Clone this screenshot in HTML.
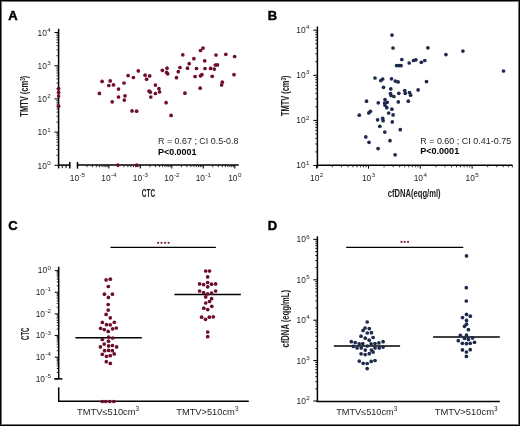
<!DOCTYPE html>
<html><head><meta charset="utf-8"><title>Figure</title>
<style>
html,body{margin:0;padding:0;background:#fff;}
body{width:520px;height:426px;overflow:hidden;position:relative;}
svg{position:absolute;left:0;top:0;display:block;will-change:transform;}
svg text{font-family:"Liberation Sans",sans-serif;}
</style></head>
<body>
<svg width="520" height="426" viewBox="0 0 520 426">
<rect x="0" y="0" width="520" height="426" fill="#fff"/>
<text x="8.30" y="20.00" font-size="13" font-weight="bold" text-anchor="start" fill="#000" stroke="#000" stroke-width="0.45">A</text>
<line x1="58.60" y1="28.80" x2="58.60" y2="165.70" stroke="#000" stroke-width="1.5"/>
<line x1="54.50" y1="165.30" x2="58.60" y2="165.30" stroke="#000" stroke-width="1.0"/>
<line x1="56.40" y1="155.31" x2="58.60" y2="155.31" stroke="#000" stroke-width="0.8"/>
<line x1="56.40" y1="149.46" x2="58.60" y2="149.46" stroke="#000" stroke-width="0.8"/>
<line x1="56.40" y1="145.31" x2="58.60" y2="145.31" stroke="#000" stroke-width="0.8"/>
<line x1="56.40" y1="142.09" x2="58.60" y2="142.09" stroke="#000" stroke-width="0.8"/>
<line x1="56.40" y1="139.47" x2="58.60" y2="139.47" stroke="#000" stroke-width="0.8"/>
<line x1="56.40" y1="137.24" x2="58.60" y2="137.24" stroke="#000" stroke-width="0.8"/>
<line x1="56.40" y1="135.32" x2="58.60" y2="135.32" stroke="#000" stroke-width="0.8"/>
<line x1="56.40" y1="133.62" x2="58.60" y2="133.62" stroke="#000" stroke-width="0.8"/>
<line x1="54.50" y1="132.10" x2="58.60" y2="132.10" stroke="#000" stroke-width="1.0"/>
<line x1="56.40" y1="122.11" x2="58.60" y2="122.11" stroke="#000" stroke-width="0.8"/>
<line x1="56.40" y1="116.26" x2="58.60" y2="116.26" stroke="#000" stroke-width="0.8"/>
<line x1="56.40" y1="112.11" x2="58.60" y2="112.11" stroke="#000" stroke-width="0.8"/>
<line x1="56.40" y1="108.89" x2="58.60" y2="108.89" stroke="#000" stroke-width="0.8"/>
<line x1="56.40" y1="106.27" x2="58.60" y2="106.27" stroke="#000" stroke-width="0.8"/>
<line x1="56.40" y1="104.04" x2="58.60" y2="104.04" stroke="#000" stroke-width="0.8"/>
<line x1="56.40" y1="102.12" x2="58.60" y2="102.12" stroke="#000" stroke-width="0.8"/>
<line x1="56.40" y1="100.42" x2="58.60" y2="100.42" stroke="#000" stroke-width="0.8"/>
<line x1="54.50" y1="98.90" x2="58.60" y2="98.90" stroke="#000" stroke-width="1.0"/>
<line x1="56.40" y1="88.91" x2="58.60" y2="88.91" stroke="#000" stroke-width="0.8"/>
<line x1="56.40" y1="83.06" x2="58.60" y2="83.06" stroke="#000" stroke-width="0.8"/>
<line x1="56.40" y1="78.91" x2="58.60" y2="78.91" stroke="#000" stroke-width="0.8"/>
<line x1="56.40" y1="75.69" x2="58.60" y2="75.69" stroke="#000" stroke-width="0.8"/>
<line x1="56.40" y1="73.07" x2="58.60" y2="73.07" stroke="#000" stroke-width="0.8"/>
<line x1="56.40" y1="70.84" x2="58.60" y2="70.84" stroke="#000" stroke-width="0.8"/>
<line x1="56.40" y1="68.92" x2="58.60" y2="68.92" stroke="#000" stroke-width="0.8"/>
<line x1="56.40" y1="67.22" x2="58.60" y2="67.22" stroke="#000" stroke-width="0.8"/>
<line x1="54.50" y1="65.70" x2="58.60" y2="65.70" stroke="#000" stroke-width="1.0"/>
<line x1="56.40" y1="55.71" x2="58.60" y2="55.71" stroke="#000" stroke-width="0.8"/>
<line x1="56.40" y1="49.86" x2="58.60" y2="49.86" stroke="#000" stroke-width="0.8"/>
<line x1="56.40" y1="45.71" x2="58.60" y2="45.71" stroke="#000" stroke-width="0.8"/>
<line x1="56.40" y1="42.49" x2="58.60" y2="42.49" stroke="#000" stroke-width="0.8"/>
<line x1="56.40" y1="39.87" x2="58.60" y2="39.87" stroke="#000" stroke-width="0.8"/>
<line x1="56.40" y1="37.64" x2="58.60" y2="37.64" stroke="#000" stroke-width="0.8"/>
<line x1="56.40" y1="35.72" x2="58.60" y2="35.72" stroke="#000" stroke-width="0.8"/>
<line x1="56.40" y1="34.02" x2="58.60" y2="34.02" stroke="#000" stroke-width="0.8"/>
<line x1="54.50" y1="32.50" x2="58.60" y2="32.50" stroke="#000" stroke-width="1.0"/>
<line x1="58.00" y1="165.10" x2="69.80" y2="165.10" stroke="#000" stroke-width="1.5"/>
<line x1="69.80" y1="162.00" x2="69.80" y2="168.40" stroke="#000" stroke-width="1.5"/>
<line x1="58.60" y1="165.10" x2="58.60" y2="168.40" stroke="#000" stroke-width="1.5"/>
<line x1="62.30" y1="165.10" x2="62.30" y2="168.10" stroke="#000" stroke-width="1.0"/>
<line x1="66.00" y1="165.10" x2="66.00" y2="168.10" stroke="#000" stroke-width="1.0"/>
<line x1="77.50" y1="165.10" x2="238.70" y2="165.10" stroke="#000" stroke-width="1.5"/>
<line x1="77.50" y1="162.00" x2="77.50" y2="168.40" stroke="#000" stroke-width="1.5"/>
<line x1="77.45" y1="165.10" x2="77.45" y2="168.50" stroke="#000" stroke-width="1.0"/>
<line x1="86.92" y1="165.10" x2="86.92" y2="167.20" stroke="#000" stroke-width="0.8"/>
<line x1="92.47" y1="165.10" x2="92.47" y2="167.20" stroke="#000" stroke-width="0.8"/>
<line x1="96.40" y1="165.10" x2="96.40" y2="167.20" stroke="#000" stroke-width="0.8"/>
<line x1="99.45" y1="165.10" x2="99.45" y2="167.20" stroke="#000" stroke-width="0.8"/>
<line x1="101.94" y1="165.10" x2="101.94" y2="167.20" stroke="#000" stroke-width="0.8"/>
<line x1="104.05" y1="165.10" x2="104.05" y2="167.20" stroke="#000" stroke-width="0.8"/>
<line x1="105.87" y1="165.10" x2="105.87" y2="167.20" stroke="#000" stroke-width="0.8"/>
<line x1="107.48" y1="165.10" x2="107.48" y2="167.20" stroke="#000" stroke-width="0.8"/>
<line x1="108.92" y1="165.10" x2="108.92" y2="168.50" stroke="#000" stroke-width="1.0"/>
<line x1="118.39" y1="165.10" x2="118.39" y2="167.20" stroke="#000" stroke-width="0.8"/>
<line x1="123.94" y1="165.10" x2="123.94" y2="167.20" stroke="#000" stroke-width="0.8"/>
<line x1="127.87" y1="165.10" x2="127.87" y2="167.20" stroke="#000" stroke-width="0.8"/>
<line x1="130.92" y1="165.10" x2="130.92" y2="167.20" stroke="#000" stroke-width="0.8"/>
<line x1="133.41" y1="165.10" x2="133.41" y2="167.20" stroke="#000" stroke-width="0.8"/>
<line x1="135.52" y1="165.10" x2="135.52" y2="167.20" stroke="#000" stroke-width="0.8"/>
<line x1="137.34" y1="165.10" x2="137.34" y2="167.20" stroke="#000" stroke-width="0.8"/>
<line x1="138.95" y1="165.10" x2="138.95" y2="167.20" stroke="#000" stroke-width="0.8"/>
<line x1="140.39" y1="165.10" x2="140.39" y2="168.50" stroke="#000" stroke-width="1.0"/>
<line x1="149.86" y1="165.10" x2="149.86" y2="167.20" stroke="#000" stroke-width="0.8"/>
<line x1="155.41" y1="165.10" x2="155.41" y2="167.20" stroke="#000" stroke-width="0.8"/>
<line x1="159.34" y1="165.10" x2="159.34" y2="167.20" stroke="#000" stroke-width="0.8"/>
<line x1="162.39" y1="165.10" x2="162.39" y2="167.20" stroke="#000" stroke-width="0.8"/>
<line x1="164.88" y1="165.10" x2="164.88" y2="167.20" stroke="#000" stroke-width="0.8"/>
<line x1="166.99" y1="165.10" x2="166.99" y2="167.20" stroke="#000" stroke-width="0.8"/>
<line x1="168.81" y1="165.10" x2="168.81" y2="167.20" stroke="#000" stroke-width="0.8"/>
<line x1="170.42" y1="165.10" x2="170.42" y2="167.20" stroke="#000" stroke-width="0.8"/>
<line x1="171.86" y1="165.10" x2="171.86" y2="168.50" stroke="#000" stroke-width="1.0"/>
<line x1="181.33" y1="165.10" x2="181.33" y2="167.20" stroke="#000" stroke-width="0.8"/>
<line x1="186.88" y1="165.10" x2="186.88" y2="167.20" stroke="#000" stroke-width="0.8"/>
<line x1="190.81" y1="165.10" x2="190.81" y2="167.20" stroke="#000" stroke-width="0.8"/>
<line x1="193.86" y1="165.10" x2="193.86" y2="167.20" stroke="#000" stroke-width="0.8"/>
<line x1="196.35" y1="165.10" x2="196.35" y2="167.20" stroke="#000" stroke-width="0.8"/>
<line x1="198.46" y1="165.10" x2="198.46" y2="167.20" stroke="#000" stroke-width="0.8"/>
<line x1="200.28" y1="165.10" x2="200.28" y2="167.20" stroke="#000" stroke-width="0.8"/>
<line x1="201.89" y1="165.10" x2="201.89" y2="167.20" stroke="#000" stroke-width="0.8"/>
<line x1="203.33" y1="165.10" x2="203.33" y2="168.50" stroke="#000" stroke-width="1.0"/>
<line x1="212.80" y1="165.10" x2="212.80" y2="167.20" stroke="#000" stroke-width="0.8"/>
<line x1="218.35" y1="165.10" x2="218.35" y2="167.20" stroke="#000" stroke-width="0.8"/>
<line x1="222.28" y1="165.10" x2="222.28" y2="167.20" stroke="#000" stroke-width="0.8"/>
<line x1="225.33" y1="165.10" x2="225.33" y2="167.20" stroke="#000" stroke-width="0.8"/>
<line x1="227.82" y1="165.10" x2="227.82" y2="167.20" stroke="#000" stroke-width="0.8"/>
<line x1="229.93" y1="165.10" x2="229.93" y2="167.20" stroke="#000" stroke-width="0.8"/>
<line x1="231.75" y1="165.10" x2="231.75" y2="167.20" stroke="#000" stroke-width="0.8"/>
<line x1="233.36" y1="165.10" x2="233.36" y2="167.20" stroke="#000" stroke-width="0.8"/>
<line x1="234.80" y1="165.10" x2="234.80" y2="168.50" stroke="#000" stroke-width="1.0"/>
<text x="50.80" y="35.70" font-size="8.4" text-anchor="end" fill="#1e1e1e">10<tspan font-size="6.2" dx="0.5" dy="-3.7">4</tspan></text>
<text x="50.80" y="68.90" font-size="8.4" text-anchor="end" fill="#1e1e1e">10<tspan font-size="6.2" dx="0.5" dy="-3.7">3</tspan></text>
<text x="50.80" y="102.10" font-size="8.4" text-anchor="end" fill="#1e1e1e">10<tspan font-size="6.2" dx="0.5" dy="-3.7">2</tspan></text>
<text x="50.80" y="135.30" font-size="8.4" text-anchor="end" fill="#1e1e1e">10<tspan font-size="6.2" dx="0.5" dy="-3.7">1</tspan></text>
<text x="50.80" y="168.50" font-size="8.4" text-anchor="end" fill="#1e1e1e">10<tspan font-size="6.2" dx="0.5" dy="-3.7">0</tspan></text>
<text x="77.45" y="180.6" font-size="8.4" text-anchor="middle" fill="#1e1e1e">10<tspan font-size="6.2" dx="0.4" dy="-3.7">-5</tspan></text>
<text x="108.92" y="180.6" font-size="8.4" text-anchor="middle" fill="#1e1e1e">10<tspan font-size="6.2" dx="0.4" dy="-3.7">-4</tspan></text>
<text x="140.39" y="180.6" font-size="8.4" text-anchor="middle" fill="#1e1e1e">10<tspan font-size="6.2" dx="0.4" dy="-3.7">-3</tspan></text>
<text x="171.86" y="180.6" font-size="8.4" text-anchor="middle" fill="#1e1e1e">10<tspan font-size="6.2" dx="0.4" dy="-3.7">-2</tspan></text>
<text x="203.33" y="180.6" font-size="8.4" text-anchor="middle" fill="#1e1e1e">10<tspan font-size="6.2" dx="0.4" dy="-3.7">-1</tspan></text>
<text x="234.80" y="180.6" font-size="8.4" text-anchor="middle" fill="#1e1e1e">10<tspan font-size="6.2" dx="0.4" dy="-3.7">0</tspan></text>
<text transform="translate(28.0,96.2) rotate(-90)" font-size="10.4" text-anchor="middle" fill="#222" font-weight="bold" textLength="41" lengthAdjust="spacingAndGlyphs">TMTV (cm<tspan font-size="6.5" dy="-3">3</tspan><tspan dy="3">)</tspan></text>
<text x="148.50" y="196.70" font-size="11.4" font-weight="bold" text-anchor="middle" fill="#222" textLength="13.4" lengthAdjust="spacingAndGlyphs">CTC</text>
<text x="158.00" y="143.80" font-size="8.3" font-weight="normal" text-anchor="start" fill="#1e1e1e" textLength="80.5" lengthAdjust="spacingAndGlyphs">R = 0.67 ; CI 0.5-0.8</text>
<text x="158.00" y="154.60" font-size="8.3" font-weight="bold" text-anchor="start" fill="#000" textLength="38.5" lengthAdjust="spacingAndGlyphs">P&lt;0.0001</text>
<circle cx="102.10" cy="81.40" r="1.85" fill="#6e0e28"/>
<circle cx="110.20" cy="80.90" r="1.85" fill="#6e0e28"/>
<circle cx="108.80" cy="85.50" r="1.85" fill="#6e0e28"/>
<circle cx="113.50" cy="84.90" r="1.85" fill="#6e0e28"/>
<circle cx="99.40" cy="93.40" r="1.85" fill="#6e0e28"/>
<circle cx="118.50" cy="89.10" r="1.85" fill="#6e0e28"/>
<circle cx="124.00" cy="83.00" r="1.85" fill="#6e0e28"/>
<circle cx="128.10" cy="75.60" r="1.85" fill="#6e0e28"/>
<circle cx="133.40" cy="77.50" r="1.85" fill="#6e0e28"/>
<circle cx="138.30" cy="70.90" r="1.85" fill="#6e0e28"/>
<circle cx="118.50" cy="97.00" r="1.85" fill="#6e0e28"/>
<circle cx="125.00" cy="95.80" r="1.85" fill="#6e0e28"/>
<circle cx="124.30" cy="100.10" r="1.85" fill="#6e0e28"/>
<circle cx="112.20" cy="101.80" r="1.85" fill="#6e0e28"/>
<circle cx="132.00" cy="110.90" r="1.85" fill="#6e0e28"/>
<circle cx="136.60" cy="111.20" r="1.85" fill="#6e0e28"/>
<circle cx="145.10" cy="75.20" r="1.85" fill="#6e0e28"/>
<circle cx="149.70" cy="75.90" r="1.85" fill="#6e0e28"/>
<circle cx="146.60" cy="79.20" r="1.85" fill="#6e0e28"/>
<circle cx="162.40" cy="70.30" r="1.85" fill="#6e0e28"/>
<circle cx="167.00" cy="68.20" r="1.85" fill="#6e0e28"/>
<circle cx="166.60" cy="72.40" r="1.85" fill="#6e0e28"/>
<circle cx="167.70" cy="73.80" r="1.85" fill="#6e0e28"/>
<circle cx="155.40" cy="85.10" r="1.85" fill="#6e0e28"/>
<circle cx="158.90" cy="88.60" r="1.85" fill="#6e0e28"/>
<circle cx="159.60" cy="91.80" r="1.85" fill="#6e0e28"/>
<circle cx="149.00" cy="91.00" r="1.85" fill="#6e0e28"/>
<circle cx="150.30" cy="92.20" r="1.85" fill="#6e0e28"/>
<circle cx="155.40" cy="93.50" r="1.85" fill="#6e0e28"/>
<circle cx="150.80" cy="97.00" r="1.85" fill="#6e0e28"/>
<circle cx="182.80" cy="54.80" r="1.85" fill="#6e0e28"/>
<circle cx="189.20" cy="63.70" r="1.85" fill="#6e0e28"/>
<circle cx="180.00" cy="67.50" r="1.85" fill="#6e0e28"/>
<circle cx="187.50" cy="68.20" r="1.85" fill="#6e0e28"/>
<circle cx="178.30" cy="71.70" r="1.85" fill="#6e0e28"/>
<circle cx="176.50" cy="77.70" r="1.85" fill="#6e0e28"/>
<circle cx="184.90" cy="93.20" r="1.85" fill="#6e0e28"/>
<circle cx="166.10" cy="102.70" r="1.85" fill="#6e0e28"/>
<circle cx="171.10" cy="115.40" r="1.85" fill="#6e0e28"/>
<circle cx="203.00" cy="48.10" r="1.85" fill="#6e0e28"/>
<circle cx="200.50" cy="50.50" r="1.85" fill="#6e0e28"/>
<circle cx="216.00" cy="55.00" r="1.85" fill="#6e0e28"/>
<circle cx="225.80" cy="54.30" r="1.85" fill="#6e0e28"/>
<circle cx="234.60" cy="56.50" r="1.85" fill="#6e0e28"/>
<circle cx="193.90" cy="58.70" r="1.85" fill="#6e0e28"/>
<circle cx="204.70" cy="60.80" r="1.85" fill="#6e0e28"/>
<circle cx="196.50" cy="68.50" r="1.85" fill="#6e0e28"/>
<circle cx="205.00" cy="68.50" r="1.85" fill="#6e0e28"/>
<circle cx="210.60" cy="68.40" r="1.85" fill="#6e0e28"/>
<circle cx="214.30" cy="69.10" r="1.85" fill="#6e0e28"/>
<circle cx="215.30" cy="65.00" r="1.85" fill="#6e0e28"/>
<circle cx="217.40" cy="64.90" r="1.85" fill="#6e0e28"/>
<circle cx="195.10" cy="76.50" r="1.85" fill="#6e0e28"/>
<circle cx="200.50" cy="75.80" r="1.85" fill="#6e0e28"/>
<circle cx="201.90" cy="74.70" r="1.85" fill="#6e0e28"/>
<circle cx="212.20" cy="76.30" r="1.85" fill="#6e0e28"/>
<circle cx="234.00" cy="74.70" r="1.85" fill="#6e0e28"/>
<circle cx="222.30" cy="82.20" r="1.85" fill="#6e0e28"/>
<circle cx="221.60" cy="85.00" r="1.85" fill="#6e0e28"/>
<circle cx="200.20" cy="88.20" r="1.85" fill="#6e0e28"/>
<circle cx="58.60" cy="88.60" r="1.85" fill="#6e0e28"/>
<circle cx="58.60" cy="92.40" r="1.85" fill="#6e0e28"/>
<circle cx="58.60" cy="96.10" r="1.85" fill="#6e0e28"/>
<circle cx="58.60" cy="106.20" r="1.85" fill="#6e0e28"/>
<circle cx="117.90" cy="165.10" r="1.85" fill="#6e0e28"/>
<circle cx="136.70" cy="165.10" r="1.85" fill="#6e0e28"/>
<text x="267.80" y="20.00" font-size="13" font-weight="bold" text-anchor="start" fill="#000" stroke="#000" stroke-width="0.45">B</text>
<line x1="317.40" y1="26.50" x2="317.40" y2="167.75" stroke="#000" stroke-width="1.5"/>
<line x1="313.30" y1="165.50" x2="317.40" y2="165.50" stroke="#000" stroke-width="1.0"/>
<line x1="315.20" y1="151.92" x2="317.40" y2="151.92" stroke="#000" stroke-width="0.8"/>
<line x1="315.20" y1="143.98" x2="317.40" y2="143.98" stroke="#000" stroke-width="0.8"/>
<line x1="315.20" y1="138.35" x2="317.40" y2="138.35" stroke="#000" stroke-width="0.8"/>
<line x1="315.20" y1="133.98" x2="317.40" y2="133.98" stroke="#000" stroke-width="0.8"/>
<line x1="315.20" y1="130.41" x2="317.40" y2="130.41" stroke="#000" stroke-width="0.8"/>
<line x1="315.20" y1="127.39" x2="317.40" y2="127.39" stroke="#000" stroke-width="0.8"/>
<line x1="315.20" y1="124.77" x2="317.40" y2="124.77" stroke="#000" stroke-width="0.8"/>
<line x1="315.20" y1="122.46" x2="317.40" y2="122.46" stroke="#000" stroke-width="0.8"/>
<line x1="313.30" y1="120.40" x2="317.40" y2="120.40" stroke="#000" stroke-width="1.0"/>
<line x1="315.20" y1="106.82" x2="317.40" y2="106.82" stroke="#000" stroke-width="0.8"/>
<line x1="315.20" y1="98.88" x2="317.40" y2="98.88" stroke="#000" stroke-width="0.8"/>
<line x1="315.20" y1="93.25" x2="317.40" y2="93.25" stroke="#000" stroke-width="0.8"/>
<line x1="315.20" y1="88.88" x2="317.40" y2="88.88" stroke="#000" stroke-width="0.8"/>
<line x1="315.20" y1="85.31" x2="317.40" y2="85.31" stroke="#000" stroke-width="0.8"/>
<line x1="315.20" y1="82.29" x2="317.40" y2="82.29" stroke="#000" stroke-width="0.8"/>
<line x1="315.20" y1="79.67" x2="317.40" y2="79.67" stroke="#000" stroke-width="0.8"/>
<line x1="315.20" y1="77.36" x2="317.40" y2="77.36" stroke="#000" stroke-width="0.8"/>
<line x1="313.30" y1="75.30" x2="317.40" y2="75.30" stroke="#000" stroke-width="1.0"/>
<line x1="315.20" y1="61.72" x2="317.40" y2="61.72" stroke="#000" stroke-width="0.8"/>
<line x1="315.20" y1="53.78" x2="317.40" y2="53.78" stroke="#000" stroke-width="0.8"/>
<line x1="315.20" y1="48.15" x2="317.40" y2="48.15" stroke="#000" stroke-width="0.8"/>
<line x1="315.20" y1="43.78" x2="317.40" y2="43.78" stroke="#000" stroke-width="0.8"/>
<line x1="315.20" y1="40.21" x2="317.40" y2="40.21" stroke="#000" stroke-width="0.8"/>
<line x1="315.20" y1="37.19" x2="317.40" y2="37.19" stroke="#000" stroke-width="0.8"/>
<line x1="315.20" y1="34.57" x2="317.40" y2="34.57" stroke="#000" stroke-width="0.8"/>
<line x1="315.20" y1="32.26" x2="317.40" y2="32.26" stroke="#000" stroke-width="0.8"/>
<line x1="313.30" y1="30.20" x2="317.40" y2="30.20" stroke="#000" stroke-width="1.0"/>
<line x1="316.80" y1="165.25" x2="512.50" y2="165.25" stroke="#000" stroke-width="1.5"/>
<line x1="316.70" y1="165.25" x2="316.70" y2="168.65" stroke="#000" stroke-width="1.0"/>
<line x1="332.29" y1="165.25" x2="332.29" y2="167.35" stroke="#000" stroke-width="0.8"/>
<line x1="341.41" y1="165.25" x2="341.41" y2="167.35" stroke="#000" stroke-width="0.8"/>
<line x1="347.89" y1="165.25" x2="347.89" y2="167.35" stroke="#000" stroke-width="0.8"/>
<line x1="352.91" y1="165.25" x2="352.91" y2="167.35" stroke="#000" stroke-width="0.8"/>
<line x1="357.01" y1="165.25" x2="357.01" y2="167.35" stroke="#000" stroke-width="0.8"/>
<line x1="360.48" y1="165.25" x2="360.48" y2="167.35" stroke="#000" stroke-width="0.8"/>
<line x1="363.48" y1="165.25" x2="363.48" y2="167.35" stroke="#000" stroke-width="0.8"/>
<line x1="366.13" y1="165.25" x2="366.13" y2="167.35" stroke="#000" stroke-width="0.8"/>
<line x1="368.50" y1="165.25" x2="368.50" y2="168.65" stroke="#000" stroke-width="1.0"/>
<line x1="384.09" y1="165.25" x2="384.09" y2="167.35" stroke="#000" stroke-width="0.8"/>
<line x1="393.21" y1="165.25" x2="393.21" y2="167.35" stroke="#000" stroke-width="0.8"/>
<line x1="399.69" y1="165.25" x2="399.69" y2="167.35" stroke="#000" stroke-width="0.8"/>
<line x1="404.71" y1="165.25" x2="404.71" y2="167.35" stroke="#000" stroke-width="0.8"/>
<line x1="408.81" y1="165.25" x2="408.81" y2="167.35" stroke="#000" stroke-width="0.8"/>
<line x1="412.28" y1="165.25" x2="412.28" y2="167.35" stroke="#000" stroke-width="0.8"/>
<line x1="415.28" y1="165.25" x2="415.28" y2="167.35" stroke="#000" stroke-width="0.8"/>
<line x1="417.93" y1="165.25" x2="417.93" y2="167.35" stroke="#000" stroke-width="0.8"/>
<line x1="420.30" y1="165.25" x2="420.30" y2="168.65" stroke="#000" stroke-width="1.0"/>
<line x1="435.89" y1="165.25" x2="435.89" y2="167.35" stroke="#000" stroke-width="0.8"/>
<line x1="445.01" y1="165.25" x2="445.01" y2="167.35" stroke="#000" stroke-width="0.8"/>
<line x1="451.49" y1="165.25" x2="451.49" y2="167.35" stroke="#000" stroke-width="0.8"/>
<line x1="456.51" y1="165.25" x2="456.51" y2="167.35" stroke="#000" stroke-width="0.8"/>
<line x1="460.61" y1="165.25" x2="460.61" y2="167.35" stroke="#000" stroke-width="0.8"/>
<line x1="464.08" y1="165.25" x2="464.08" y2="167.35" stroke="#000" stroke-width="0.8"/>
<line x1="467.08" y1="165.25" x2="467.08" y2="167.35" stroke="#000" stroke-width="0.8"/>
<line x1="469.73" y1="165.25" x2="469.73" y2="167.35" stroke="#000" stroke-width="0.8"/>
<line x1="472.10" y1="165.25" x2="472.10" y2="168.65" stroke="#000" stroke-width="1.0"/>
<line x1="487.69" y1="165.25" x2="487.69" y2="167.25" stroke="#000" stroke-width="0.8"/>
<line x1="496.81" y1="165.25" x2="496.81" y2="167.25" stroke="#000" stroke-width="0.8"/>
<line x1="503.29" y1="165.25" x2="503.29" y2="167.25" stroke="#000" stroke-width="0.8"/>
<line x1="508.31" y1="165.25" x2="508.31" y2="167.25" stroke="#000" stroke-width="0.8"/>
<line x1="512.41" y1="165.25" x2="512.41" y2="167.25" stroke="#000" stroke-width="0.8"/>
<text x="309.50" y="33.00" font-size="8.4" text-anchor="end" fill="#1e1e1e">10<tspan font-size="6.2" dx="0.5" dy="-3.7">4</tspan></text>
<text x="309.50" y="78.10" font-size="8.4" text-anchor="end" fill="#1e1e1e">10<tspan font-size="6.2" dx="0.5" dy="-3.7">3</tspan></text>
<text x="309.50" y="123.20" font-size="8.4" text-anchor="end" fill="#1e1e1e">10<tspan font-size="6.2" dx="0.5" dy="-3.7">2</tspan></text>
<text x="309.50" y="168.30" font-size="8.4" text-anchor="end" fill="#1e1e1e">10<tspan font-size="6.2" dx="0.5" dy="-3.7">1</tspan></text>
<text x="316.70" y="180.8" font-size="8.4" text-anchor="middle" fill="#1e1e1e">10<tspan font-size="6.2" dx="0.4" dy="-3.7">2</tspan></text>
<text x="368.50" y="180.8" font-size="8.4" text-anchor="middle" fill="#1e1e1e">10<tspan font-size="6.2" dx="0.4" dy="-3.7">3</tspan></text>
<text x="420.30" y="180.8" font-size="8.4" text-anchor="middle" fill="#1e1e1e">10<tspan font-size="6.2" dx="0.4" dy="-3.7">4</tspan></text>
<text x="472.10" y="180.8" font-size="8.4" text-anchor="middle" fill="#1e1e1e">10<tspan font-size="6.2" dx="0.4" dy="-3.7">5</tspan></text>
<text transform="translate(288.6,95.8) rotate(-90)" font-size="10.4" text-anchor="middle" fill="#222" font-weight="bold" textLength="40.5" lengthAdjust="spacingAndGlyphs">TMTV (cm<tspan font-size="6.5" dy="-3">3</tspan><tspan dy="3">)</tspan></text>
<text x="387.80" y="196.80" font-size="10.2" font-weight="bold" text-anchor="start" fill="#222" textLength="52.8" lengthAdjust="spacingAndGlyphs">cfDNA(eqg/ml)</text>
<text x="420.20" y="144.40" font-size="8.3" font-weight="normal" text-anchor="start" fill="#1e1e1e" textLength="91" lengthAdjust="spacingAndGlyphs">R = 0.60 ; CI 0.41-0.75</text>
<text x="420.20" y="154.30" font-size="8.3" font-weight="bold" text-anchor="start" fill="#000" textLength="39" lengthAdjust="spacingAndGlyphs">P&lt;0.0001</text>
<circle cx="392.00" cy="35.10" r="1.85" fill="#1e2a4c"/>
<circle cx="393.00" cy="48.00" r="1.85" fill="#1e2a4c"/>
<circle cx="427.90" cy="47.80" r="1.85" fill="#1e2a4c"/>
<circle cx="401.80" cy="59.50" r="1.85" fill="#1e2a4c"/>
<circle cx="396.60" cy="65.60" r="1.85" fill="#1e2a4c"/>
<circle cx="399.00" cy="65.60" r="1.85" fill="#1e2a4c"/>
<circle cx="401.10" cy="65.60" r="1.85" fill="#1e2a4c"/>
<circle cx="409.20" cy="63.00" r="1.85" fill="#1e2a4c"/>
<circle cx="413.50" cy="60.50" r="1.85" fill="#1e2a4c"/>
<circle cx="415.90" cy="59.80" r="1.85" fill="#1e2a4c"/>
<circle cx="421.30" cy="62.30" r="1.85" fill="#1e2a4c"/>
<circle cx="424.80" cy="60.50" r="1.85" fill="#1e2a4c"/>
<circle cx="375.00" cy="78.00" r="1.85" fill="#1e2a4c"/>
<circle cx="380.80" cy="80.60" r="1.85" fill="#1e2a4c"/>
<circle cx="382.70" cy="79.00" r="1.85" fill="#1e2a4c"/>
<circle cx="391.50" cy="78.80" r="1.85" fill="#1e2a4c"/>
<circle cx="395.30" cy="81.10" r="1.85" fill="#1e2a4c"/>
<circle cx="398.10" cy="81.90" r="1.85" fill="#1e2a4c"/>
<circle cx="426.50" cy="81.60" r="1.85" fill="#1e2a4c"/>
<circle cx="383.50" cy="87.30" r="1.85" fill="#1e2a4c"/>
<circle cx="390.80" cy="88.90" r="1.85" fill="#1e2a4c"/>
<circle cx="390.50" cy="93.60" r="1.85" fill="#1e2a4c"/>
<circle cx="391.10" cy="95.50" r="1.85" fill="#1e2a4c"/>
<circle cx="393.90" cy="96.50" r="1.85" fill="#1e2a4c"/>
<circle cx="398.80" cy="93.30" r="1.85" fill="#1e2a4c"/>
<circle cx="404.80" cy="90.60" r="1.85" fill="#1e2a4c"/>
<circle cx="405.20" cy="93.30" r="1.85" fill="#1e2a4c"/>
<circle cx="409.50" cy="92.50" r="1.85" fill="#1e2a4c"/>
<circle cx="410.60" cy="95.20" r="1.85" fill="#1e2a4c"/>
<circle cx="418.10" cy="89.90" r="1.85" fill="#1e2a4c"/>
<circle cx="385.00" cy="99.60" r="1.85" fill="#1e2a4c"/>
<circle cx="378.30" cy="102.80" r="1.85" fill="#1e2a4c"/>
<circle cx="384.60" cy="103.00" r="1.85" fill="#1e2a4c"/>
<circle cx="387.20" cy="102.30" r="1.85" fill="#1e2a4c"/>
<circle cx="385.00" cy="105.20" r="1.85" fill="#1e2a4c"/>
<circle cx="386.80" cy="107.70" r="1.85" fill="#1e2a4c"/>
<circle cx="398.30" cy="101.90" r="1.85" fill="#1e2a4c"/>
<circle cx="408.30" cy="101.20" r="1.85" fill="#1e2a4c"/>
<circle cx="366.50" cy="101.20" r="1.85" fill="#1e2a4c"/>
<circle cx="391.90" cy="109.20" r="1.85" fill="#1e2a4c"/>
<circle cx="370.40" cy="111.30" r="1.85" fill="#1e2a4c"/>
<circle cx="368.80" cy="112.90" r="1.85" fill="#1e2a4c"/>
<circle cx="388.70" cy="113.00" r="1.85" fill="#1e2a4c"/>
<circle cx="393.10" cy="114.90" r="1.85" fill="#1e2a4c"/>
<circle cx="359.30" cy="115.20" r="1.85" fill="#1e2a4c"/>
<circle cx="377.60" cy="119.80" r="1.85" fill="#1e2a4c"/>
<circle cx="382.70" cy="118.30" r="1.85" fill="#1e2a4c"/>
<circle cx="383.10" cy="120.70" r="1.85" fill="#1e2a4c"/>
<circle cx="392.30" cy="121.90" r="1.85" fill="#1e2a4c"/>
<circle cx="379.80" cy="126.30" r="1.85" fill="#1e2a4c"/>
<circle cx="384.80" cy="132.10" r="1.85" fill="#1e2a4c"/>
<circle cx="400.30" cy="129.70" r="1.85" fill="#1e2a4c"/>
<circle cx="365.80" cy="136.90" r="1.85" fill="#1e2a4c"/>
<circle cx="369.00" cy="142.30" r="1.85" fill="#1e2a4c"/>
<circle cx="390.00" cy="140.70" r="1.85" fill="#1e2a4c"/>
<circle cx="378.10" cy="148.60" r="1.85" fill="#1e2a4c"/>
<circle cx="395.10" cy="154.80" r="1.85" fill="#1e2a4c"/>
<circle cx="445.90" cy="54.60" r="1.85" fill="#1e2a4c"/>
<circle cx="462.90" cy="51.10" r="1.85" fill="#1e2a4c"/>
<circle cx="503.50" cy="71.00" r="1.85" fill="#1e2a4c"/>
<text x="8.30" y="230.00" font-size="13" font-weight="bold" text-anchor="start" fill="#000" stroke="#000" stroke-width="0.45">C</text>
<line x1="58.70" y1="266.70" x2="58.70" y2="378.85" stroke="#000" stroke-width="1.5"/>
<line x1="54.70" y1="270.60" x2="58.70" y2="270.60" stroke="#000" stroke-width="1.0"/>
<line x1="56.70" y1="285.73" x2="58.70" y2="285.73" stroke="#000" stroke-width="0.8"/>
<line x1="56.70" y1="281.92" x2="58.70" y2="281.92" stroke="#000" stroke-width="0.8"/>
<line x1="56.70" y1="279.22" x2="58.70" y2="279.22" stroke="#000" stroke-width="0.8"/>
<line x1="56.70" y1="277.12" x2="58.70" y2="277.12" stroke="#000" stroke-width="0.8"/>
<line x1="56.70" y1="275.40" x2="58.70" y2="275.40" stroke="#000" stroke-width="0.8"/>
<line x1="56.70" y1="273.95" x2="58.70" y2="273.95" stroke="#000" stroke-width="0.8"/>
<line x1="56.70" y1="272.70" x2="58.70" y2="272.70" stroke="#000" stroke-width="0.8"/>
<line x1="56.70" y1="271.59" x2="58.70" y2="271.59" stroke="#000" stroke-width="0.8"/>
<line x1="54.70" y1="292.25" x2="58.70" y2="292.25" stroke="#000" stroke-width="1.0"/>
<line x1="56.70" y1="307.38" x2="58.70" y2="307.38" stroke="#000" stroke-width="0.8"/>
<line x1="56.70" y1="303.57" x2="58.70" y2="303.57" stroke="#000" stroke-width="0.8"/>
<line x1="56.70" y1="300.87" x2="58.70" y2="300.87" stroke="#000" stroke-width="0.8"/>
<line x1="56.70" y1="298.77" x2="58.70" y2="298.77" stroke="#000" stroke-width="0.8"/>
<line x1="56.70" y1="297.05" x2="58.70" y2="297.05" stroke="#000" stroke-width="0.8"/>
<line x1="56.70" y1="295.60" x2="58.70" y2="295.60" stroke="#000" stroke-width="0.8"/>
<line x1="56.70" y1="294.35" x2="58.70" y2="294.35" stroke="#000" stroke-width="0.8"/>
<line x1="56.70" y1="293.24" x2="58.70" y2="293.24" stroke="#000" stroke-width="0.8"/>
<line x1="54.70" y1="313.90" x2="58.70" y2="313.90" stroke="#000" stroke-width="1.0"/>
<line x1="56.70" y1="329.03" x2="58.70" y2="329.03" stroke="#000" stroke-width="0.8"/>
<line x1="56.70" y1="325.22" x2="58.70" y2="325.22" stroke="#000" stroke-width="0.8"/>
<line x1="56.70" y1="322.52" x2="58.70" y2="322.52" stroke="#000" stroke-width="0.8"/>
<line x1="56.70" y1="320.42" x2="58.70" y2="320.42" stroke="#000" stroke-width="0.8"/>
<line x1="56.70" y1="318.70" x2="58.70" y2="318.70" stroke="#000" stroke-width="0.8"/>
<line x1="56.70" y1="317.25" x2="58.70" y2="317.25" stroke="#000" stroke-width="0.8"/>
<line x1="56.70" y1="316.00" x2="58.70" y2="316.00" stroke="#000" stroke-width="0.8"/>
<line x1="56.70" y1="314.89" x2="58.70" y2="314.89" stroke="#000" stroke-width="0.8"/>
<line x1="54.70" y1="335.55" x2="58.70" y2="335.55" stroke="#000" stroke-width="1.0"/>
<line x1="56.70" y1="350.68" x2="58.70" y2="350.68" stroke="#000" stroke-width="0.8"/>
<line x1="56.70" y1="346.87" x2="58.70" y2="346.87" stroke="#000" stroke-width="0.8"/>
<line x1="56.70" y1="344.17" x2="58.70" y2="344.17" stroke="#000" stroke-width="0.8"/>
<line x1="56.70" y1="342.07" x2="58.70" y2="342.07" stroke="#000" stroke-width="0.8"/>
<line x1="56.70" y1="340.35" x2="58.70" y2="340.35" stroke="#000" stroke-width="0.8"/>
<line x1="56.70" y1="338.90" x2="58.70" y2="338.90" stroke="#000" stroke-width="0.8"/>
<line x1="56.70" y1="337.65" x2="58.70" y2="337.65" stroke="#000" stroke-width="0.8"/>
<line x1="56.70" y1="336.54" x2="58.70" y2="336.54" stroke="#000" stroke-width="0.8"/>
<line x1="54.70" y1="357.20" x2="58.70" y2="357.20" stroke="#000" stroke-width="1.0"/>
<line x1="56.70" y1="372.33" x2="58.70" y2="372.33" stroke="#000" stroke-width="0.8"/>
<line x1="56.70" y1="368.52" x2="58.70" y2="368.52" stroke="#000" stroke-width="0.8"/>
<line x1="56.70" y1="365.82" x2="58.70" y2="365.82" stroke="#000" stroke-width="0.8"/>
<line x1="56.70" y1="363.72" x2="58.70" y2="363.72" stroke="#000" stroke-width="0.8"/>
<line x1="56.70" y1="362.00" x2="58.70" y2="362.00" stroke="#000" stroke-width="0.8"/>
<line x1="56.70" y1="360.55" x2="58.70" y2="360.55" stroke="#000" stroke-width="0.8"/>
<line x1="56.70" y1="359.30" x2="58.70" y2="359.30" stroke="#000" stroke-width="0.8"/>
<line x1="56.70" y1="358.19" x2="58.70" y2="358.19" stroke="#000" stroke-width="0.8"/>
<line x1="54.70" y1="378.85" x2="58.70" y2="378.85" stroke="#000" stroke-width="1.0"/>
<line x1="54.40" y1="378.85" x2="62.40" y2="378.85" stroke="#000" stroke-width="1.5"/>
<line x1="58.70" y1="387.40" x2="58.70" y2="401.95" stroke="#000" stroke-width="1.5"/>
<line x1="58.10" y1="401.35" x2="248.80" y2="401.35" stroke="#000" stroke-width="1.5"/>
<text x="51.00" y="273.40" font-size="8.4" text-anchor="end" fill="#1e1e1e">10<tspan font-size="6.2" dx="0.5" dy="-3.7">0</tspan></text>
<text x="51.00" y="295.05" font-size="8.4" text-anchor="end" fill="#1e1e1e">10<tspan font-size="6.2" dx="0.5" dy="-3.7">-1</tspan></text>
<text x="51.00" y="316.70" font-size="8.4" text-anchor="end" fill="#1e1e1e">10<tspan font-size="6.2" dx="0.5" dy="-3.7">-2</tspan></text>
<text x="51.00" y="338.35" font-size="8.4" text-anchor="end" fill="#1e1e1e">10<tspan font-size="6.2" dx="0.5" dy="-3.7">-3</tspan></text>
<text x="51.00" y="360.00" font-size="8.4" text-anchor="end" fill="#1e1e1e">10<tspan font-size="6.2" dx="0.5" dy="-3.7">-4</tspan></text>
<text x="51.00" y="381.65" font-size="8.4" text-anchor="end" fill="#1e1e1e">10<tspan font-size="6.2" dx="0.5" dy="-3.7">-5</tspan></text>
<text transform="translate(29.3,333.8) rotate(-90)" font-size="11" text-anchor="middle" fill="#222" font-weight="bold" textLength="12.3" lengthAdjust="spacingAndGlyphs">CTC</text>
<line x1="110.50" y1="247.45" x2="215.90" y2="247.45" stroke="#000" stroke-width="1.3"/>
<circle cx="158.1" cy="242.8" r="1.1" fill="#7a2a44"/>
<circle cx="161.5" cy="242.8" r="1.1" fill="#7a2a44"/>
<circle cx="165.1" cy="242.8" r="1.1" fill="#7a2a44"/>
<circle cx="168.6" cy="242.8" r="1.1" fill="#7a2a44"/>
<line x1="75.40" y1="337.85" x2="141.80" y2="337.85" stroke="#000" stroke-width="1.5"/>
<line x1="174.40" y1="294.45" x2="240.80" y2="294.45" stroke="#000" stroke-width="1.4"/>
<text x="77.10" y="415.00" font-size="8.9" fill="#1e1e1e" textLength="58.40" lengthAdjust="spacingAndGlyphs">TMTV&#8804;510cm</text>
<text x="135.60" y="411.40" font-size="6.4" fill="#1e1e1e">3</text>
<text x="176.30" y="414.80" font-size="8.9" fill="#1e1e1e" textLength="58.50" lengthAdjust="spacingAndGlyphs">TMTV&gt;510cm</text>
<text x="234.90" y="411.20" font-size="6.4" fill="#1e1e1e">3</text>
<circle cx="106.10" cy="279.90" r="1.85" fill="#6e0e28"/>
<circle cx="110.30" cy="279.20" r="1.85" fill="#6e0e28"/>
<circle cx="108.30" cy="286.50" r="1.85" fill="#6e0e28"/>
<circle cx="104.40" cy="294.20" r="1.85" fill="#6e0e28"/>
<circle cx="112.40" cy="294.20" r="1.85" fill="#6e0e28"/>
<circle cx="108.40" cy="297.40" r="1.85" fill="#6e0e28"/>
<circle cx="108.20" cy="304.50" r="1.85" fill="#6e0e28"/>
<circle cx="108.20" cy="310.10" r="1.85" fill="#6e0e28"/>
<circle cx="106.10" cy="314.40" r="1.85" fill="#6e0e28"/>
<circle cx="110.30" cy="317.80" r="1.85" fill="#6e0e28"/>
<circle cx="102.30" cy="322.40" r="1.85" fill="#6e0e28"/>
<circle cx="106.50" cy="324.70" r="1.85" fill="#6e0e28"/>
<circle cx="110.20" cy="324.80" r="1.85" fill="#6e0e28"/>
<circle cx="114.30" cy="322.30" r="1.85" fill="#6e0e28"/>
<circle cx="100.60" cy="328.30" r="1.85" fill="#6e0e28"/>
<circle cx="104.30" cy="329.60" r="1.85" fill="#6e0e28"/>
<circle cx="108.20" cy="331.40" r="1.85" fill="#6e0e28"/>
<circle cx="112.60" cy="328.80" r="1.85" fill="#6e0e28"/>
<circle cx="116.30" cy="328.00" r="1.85" fill="#6e0e28"/>
<circle cx="108.60" cy="337.00" r="1.85" fill="#6e0e28"/>
<circle cx="112.70" cy="338.00" r="1.85" fill="#6e0e28"/>
<circle cx="102.30" cy="339.40" r="1.85" fill="#6e0e28"/>
<circle cx="108.50" cy="341.20" r="1.85" fill="#6e0e28"/>
<circle cx="104.20" cy="344.10" r="1.85" fill="#6e0e28"/>
<circle cx="100.40" cy="346.90" r="1.85" fill="#6e0e28"/>
<circle cx="108.60" cy="345.90" r="1.85" fill="#6e0e28"/>
<circle cx="112.40" cy="345.50" r="1.85" fill="#6e0e28"/>
<circle cx="116.60" cy="346.90" r="1.85" fill="#6e0e28"/>
<circle cx="104.60" cy="350.70" r="1.85" fill="#6e0e28"/>
<circle cx="108.60" cy="350.40" r="1.85" fill="#6e0e28"/>
<circle cx="112.40" cy="350.70" r="1.85" fill="#6e0e28"/>
<circle cx="102.30" cy="354.30" r="1.85" fill="#6e0e28"/>
<circle cx="114.20" cy="353.90" r="1.85" fill="#6e0e28"/>
<circle cx="106.50" cy="356.30" r="1.85" fill="#6e0e28"/>
<circle cx="110.30" cy="355.70" r="1.85" fill="#6e0e28"/>
<circle cx="106.30" cy="361.70" r="1.85" fill="#6e0e28"/>
<circle cx="110.30" cy="363.40" r="1.85" fill="#6e0e28"/>
<circle cx="102.30" cy="401.50" r="1.85" fill="#6e0e28"/>
<circle cx="105.70" cy="401.50" r="1.85" fill="#6e0e28"/>
<circle cx="109.70" cy="401.50" r="1.85" fill="#6e0e28"/>
<circle cx="113.80" cy="401.50" r="1.85" fill="#6e0e28"/>
<circle cx="205.70" cy="271.00" r="1.85" fill="#6e0e28"/>
<circle cx="209.50" cy="271.00" r="1.85" fill="#6e0e28"/>
<circle cx="207.70" cy="276.90" r="1.85" fill="#6e0e28"/>
<circle cx="199.60" cy="283.90" r="1.85" fill="#6e0e28"/>
<circle cx="203.60" cy="284.60" r="1.85" fill="#6e0e28"/>
<circle cx="207.70" cy="282.50" r="1.85" fill="#6e0e28"/>
<circle cx="211.60" cy="284.20" r="1.85" fill="#6e0e28"/>
<circle cx="215.60" cy="283.90" r="1.85" fill="#6e0e28"/>
<circle cx="207.70" cy="286.80" r="1.85" fill="#6e0e28"/>
<circle cx="199.60" cy="291.00" r="1.85" fill="#6e0e28"/>
<circle cx="203.60" cy="292.70" r="1.85" fill="#6e0e28"/>
<circle cx="207.70" cy="293.80" r="1.85" fill="#6e0e28"/>
<circle cx="211.60" cy="293.10" r="1.85" fill="#6e0e28"/>
<circle cx="215.60" cy="291.00" r="1.85" fill="#6e0e28"/>
<circle cx="205.70" cy="296.90" r="1.85" fill="#6e0e28"/>
<circle cx="211.60" cy="298.70" r="1.85" fill="#6e0e28"/>
<circle cx="209.50" cy="301.50" r="1.85" fill="#6e0e28"/>
<circle cx="205.70" cy="303.00" r="1.85" fill="#6e0e28"/>
<circle cx="211.80" cy="306.30" r="1.85" fill="#6e0e28"/>
<circle cx="203.80" cy="308.20" r="1.85" fill="#6e0e28"/>
<circle cx="207.70" cy="309.60" r="1.85" fill="#6e0e28"/>
<circle cx="201.60" cy="317.20" r="1.85" fill="#6e0e28"/>
<circle cx="205.50" cy="319.30" r="1.85" fill="#6e0e28"/>
<circle cx="209.30" cy="317.20" r="1.85" fill="#6e0e28"/>
<circle cx="213.30" cy="316.80" r="1.85" fill="#6e0e28"/>
<circle cx="207.70" cy="332.00" r="1.85" fill="#6e0e28"/>
<circle cx="207.70" cy="336.70" r="1.85" fill="#6e0e28"/>
<text x="267.80" y="230.00" font-size="13" font-weight="bold" text-anchor="start" fill="#000" stroke="#000" stroke-width="0.45">D</text>
<line x1="317.40" y1="236.30" x2="317.40" y2="402.05" stroke="#000" stroke-width="1.5"/>
<line x1="313.30" y1="401.00" x2="317.40" y2="401.00" stroke="#000" stroke-width="1.0"/>
<line x1="315.20" y1="388.84" x2="317.40" y2="388.84" stroke="#000" stroke-width="0.8"/>
<line x1="315.20" y1="381.72" x2="317.40" y2="381.72" stroke="#000" stroke-width="0.8"/>
<line x1="315.20" y1="376.68" x2="317.40" y2="376.68" stroke="#000" stroke-width="0.8"/>
<line x1="315.20" y1="372.76" x2="317.40" y2="372.76" stroke="#000" stroke-width="0.8"/>
<line x1="315.20" y1="369.56" x2="317.40" y2="369.56" stroke="#000" stroke-width="0.8"/>
<line x1="315.20" y1="366.86" x2="317.40" y2="366.86" stroke="#000" stroke-width="0.8"/>
<line x1="315.20" y1="364.52" x2="317.40" y2="364.52" stroke="#000" stroke-width="0.8"/>
<line x1="315.20" y1="362.45" x2="317.40" y2="362.45" stroke="#000" stroke-width="0.8"/>
<line x1="313.30" y1="360.60" x2="317.40" y2="360.60" stroke="#000" stroke-width="1.0"/>
<line x1="315.20" y1="348.44" x2="317.40" y2="348.44" stroke="#000" stroke-width="0.8"/>
<line x1="315.20" y1="341.32" x2="317.40" y2="341.32" stroke="#000" stroke-width="0.8"/>
<line x1="315.20" y1="336.28" x2="317.40" y2="336.28" stroke="#000" stroke-width="0.8"/>
<line x1="315.20" y1="332.36" x2="317.40" y2="332.36" stroke="#000" stroke-width="0.8"/>
<line x1="315.20" y1="329.16" x2="317.40" y2="329.16" stroke="#000" stroke-width="0.8"/>
<line x1="315.20" y1="326.46" x2="317.40" y2="326.46" stroke="#000" stroke-width="0.8"/>
<line x1="315.20" y1="324.12" x2="317.40" y2="324.12" stroke="#000" stroke-width="0.8"/>
<line x1="315.20" y1="322.05" x2="317.40" y2="322.05" stroke="#000" stroke-width="0.8"/>
<line x1="313.30" y1="320.20" x2="317.40" y2="320.20" stroke="#000" stroke-width="1.0"/>
<line x1="315.20" y1="308.04" x2="317.40" y2="308.04" stroke="#000" stroke-width="0.8"/>
<line x1="315.20" y1="300.92" x2="317.40" y2="300.92" stroke="#000" stroke-width="0.8"/>
<line x1="315.20" y1="295.88" x2="317.40" y2="295.88" stroke="#000" stroke-width="0.8"/>
<line x1="315.20" y1="291.96" x2="317.40" y2="291.96" stroke="#000" stroke-width="0.8"/>
<line x1="315.20" y1="288.76" x2="317.40" y2="288.76" stroke="#000" stroke-width="0.8"/>
<line x1="315.20" y1="286.06" x2="317.40" y2="286.06" stroke="#000" stroke-width="0.8"/>
<line x1="315.20" y1="283.72" x2="317.40" y2="283.72" stroke="#000" stroke-width="0.8"/>
<line x1="315.20" y1="281.65" x2="317.40" y2="281.65" stroke="#000" stroke-width="0.8"/>
<line x1="313.30" y1="279.80" x2="317.40" y2="279.80" stroke="#000" stroke-width="1.0"/>
<line x1="315.20" y1="267.64" x2="317.40" y2="267.64" stroke="#000" stroke-width="0.8"/>
<line x1="315.20" y1="260.52" x2="317.40" y2="260.52" stroke="#000" stroke-width="0.8"/>
<line x1="315.20" y1="255.48" x2="317.40" y2="255.48" stroke="#000" stroke-width="0.8"/>
<line x1="315.20" y1="251.56" x2="317.40" y2="251.56" stroke="#000" stroke-width="0.8"/>
<line x1="315.20" y1="248.36" x2="317.40" y2="248.36" stroke="#000" stroke-width="0.8"/>
<line x1="315.20" y1="245.66" x2="317.40" y2="245.66" stroke="#000" stroke-width="0.8"/>
<line x1="315.20" y1="243.32" x2="317.40" y2="243.32" stroke="#000" stroke-width="0.8"/>
<line x1="315.20" y1="241.25" x2="317.40" y2="241.25" stroke="#000" stroke-width="0.8"/>
<line x1="313.30" y1="239.40" x2="317.40" y2="239.40" stroke="#000" stroke-width="1.0"/>
<line x1="316.80" y1="401.45" x2="499.80" y2="401.45" stroke="#000" stroke-width="1.5"/>
<text x="309.80" y="242.30" font-size="8.4" text-anchor="end" fill="#1e1e1e">10<tspan font-size="6.2" dx="0.5" dy="-3.7">6</tspan></text>
<text x="309.80" y="282.70" font-size="8.4" text-anchor="end" fill="#1e1e1e">10<tspan font-size="6.2" dx="0.5" dy="-3.7">5</tspan></text>
<text x="309.80" y="323.10" font-size="8.4" text-anchor="end" fill="#1e1e1e">10<tspan font-size="6.2" dx="0.5" dy="-3.7">4</tspan></text>
<text x="309.80" y="363.50" font-size="8.4" text-anchor="end" fill="#1e1e1e">10<tspan font-size="6.2" dx="0.5" dy="-3.7">3</tspan></text>
<text x="309.80" y="403.90" font-size="8.4" text-anchor="end" fill="#1e1e1e">10<tspan font-size="6.2" dx="0.5" dy="-3.7">2</tspan></text>
<text transform="translate(288.5,318.7) rotate(-90)" font-size="10.2" text-anchor="middle" fill="#222" font-weight="bold" textLength="57.5" lengthAdjust="spacingAndGlyphs">cfDNA (eqg/mL)</text>
<line x1="346.20" y1="247.45" x2="463.30" y2="247.45" stroke="#000" stroke-width="1.3"/>
<circle cx="401.5" cy="241.9" r="1.1" fill="#7a2a44"/>
<circle cx="404.7" cy="241.9" r="1.1" fill="#7a2a44"/>
<circle cx="408.0" cy="241.9" r="1.1" fill="#7a2a44"/>
<line x1="333.80" y1="345.90" x2="400.10" y2="345.90" stroke="#000" stroke-width="1.5"/>
<line x1="433.10" y1="337.10" x2="499.80" y2="337.10" stroke="#000" stroke-width="1.5"/>
<text x="336.20" y="415.00" font-size="8.9" fill="#1e1e1e" textLength="57.50" lengthAdjust="spacingAndGlyphs">TMTV&#8804;510cm</text>
<text x="393.80" y="411.40" font-size="6.4" fill="#1e1e1e">3</text>
<text x="434.70" y="414.80" font-size="8.9" fill="#1e1e1e" textLength="59.30" lengthAdjust="spacingAndGlyphs">TMTV&gt;510cm</text>
<text x="494.10" y="411.20" font-size="6.4" fill="#1e1e1e">3</text>
<circle cx="367.20" cy="322.00" r="1.85" fill="#1e2a4c"/>
<circle cx="365.10" cy="328.00" r="1.85" fill="#1e2a4c"/>
<circle cx="369.30" cy="328.60" r="1.85" fill="#1e2a4c"/>
<circle cx="363.10" cy="330.40" r="1.85" fill="#1e2a4c"/>
<circle cx="367.30" cy="333.00" r="1.85" fill="#1e2a4c"/>
<circle cx="371.40" cy="332.70" r="1.85" fill="#1e2a4c"/>
<circle cx="361.00" cy="336.20" r="1.85" fill="#1e2a4c"/>
<circle cx="365.30" cy="338.20" r="1.85" fill="#1e2a4c"/>
<circle cx="373.10" cy="337.50" r="1.85" fill="#1e2a4c"/>
<circle cx="369.20" cy="340.20" r="1.85" fill="#1e2a4c"/>
<circle cx="351.30" cy="341.70" r="1.85" fill="#1e2a4c"/>
<circle cx="355.20" cy="342.60" r="1.85" fill="#1e2a4c"/>
<circle cx="359.20" cy="343.80" r="1.85" fill="#1e2a4c"/>
<circle cx="362.80" cy="343.70" r="1.85" fill="#1e2a4c"/>
<circle cx="371.10" cy="343.90" r="1.85" fill="#1e2a4c"/>
<circle cx="375.00" cy="343.60" r="1.85" fill="#1e2a4c"/>
<circle cx="378.90" cy="342.90" r="1.85" fill="#1e2a4c"/>
<circle cx="383.10" cy="341.70" r="1.85" fill="#1e2a4c"/>
<circle cx="353.30" cy="346.40" r="1.85" fill="#1e2a4c"/>
<circle cx="357.10" cy="348.00" r="1.85" fill="#1e2a4c"/>
<circle cx="361.30" cy="348.00" r="1.85" fill="#1e2a4c"/>
<circle cx="367.30" cy="346.00" r="1.85" fill="#1e2a4c"/>
<circle cx="375.00" cy="348.00" r="1.85" fill="#1e2a4c"/>
<circle cx="379.20" cy="348.00" r="1.85" fill="#1e2a4c"/>
<circle cx="383.10" cy="347.10" r="1.85" fill="#1e2a4c"/>
<circle cx="365.30" cy="350.10" r="1.85" fill="#1e2a4c"/>
<circle cx="371.40" cy="350.10" r="1.85" fill="#1e2a4c"/>
<circle cx="373.10" cy="352.10" r="1.85" fill="#1e2a4c"/>
<circle cx="361.10" cy="353.80" r="1.85" fill="#1e2a4c"/>
<circle cx="365.20" cy="354.60" r="1.85" fill="#1e2a4c"/>
<circle cx="369.30" cy="353.70" r="1.85" fill="#1e2a4c"/>
<circle cx="359.30" cy="361.10" r="1.85" fill="#1e2a4c"/>
<circle cx="363.20" cy="363.30" r="1.85" fill="#1e2a4c"/>
<circle cx="367.20" cy="363.50" r="1.85" fill="#1e2a4c"/>
<circle cx="371.20" cy="361.40" r="1.85" fill="#1e2a4c"/>
<circle cx="375.00" cy="360.50" r="1.85" fill="#1e2a4c"/>
<circle cx="367.20" cy="368.60" r="1.85" fill="#1e2a4c"/>
<circle cx="466.50" cy="255.90" r="1.85" fill="#1e2a4c"/>
<circle cx="466.30" cy="287.70" r="1.85" fill="#1e2a4c"/>
<circle cx="466.30" cy="301.00" r="1.85" fill="#1e2a4c"/>
<circle cx="466.50" cy="314.40" r="1.85" fill="#1e2a4c"/>
<circle cx="462.50" cy="317.60" r="1.85" fill="#1e2a4c"/>
<circle cx="470.30" cy="316.20" r="1.85" fill="#1e2a4c"/>
<circle cx="466.50" cy="320.40" r="1.85" fill="#1e2a4c"/>
<circle cx="466.50" cy="324.20" r="1.85" fill="#1e2a4c"/>
<circle cx="464.50" cy="326.30" r="1.85" fill="#1e2a4c"/>
<circle cx="468.40" cy="329.70" r="1.85" fill="#1e2a4c"/>
<circle cx="460.40" cy="335.30" r="1.85" fill="#1e2a4c"/>
<circle cx="466.50" cy="335.10" r="1.85" fill="#1e2a4c"/>
<circle cx="464.50" cy="338.30" r="1.85" fill="#1e2a4c"/>
<circle cx="468.40" cy="339.40" r="1.85" fill="#1e2a4c"/>
<circle cx="472.60" cy="337.90" r="1.85" fill="#1e2a4c"/>
<circle cx="458.30" cy="340.70" r="1.85" fill="#1e2a4c"/>
<circle cx="462.40" cy="343.30" r="1.85" fill="#1e2a4c"/>
<circle cx="466.40" cy="343.70" r="1.85" fill="#1e2a4c"/>
<circle cx="470.20" cy="343.30" r="1.85" fill="#1e2a4c"/>
<circle cx="474.50" cy="342.30" r="1.85" fill="#1e2a4c"/>
<circle cx="462.40" cy="349.90" r="1.85" fill="#1e2a4c"/>
<circle cx="466.40" cy="352.00" r="1.85" fill="#1e2a4c"/>
<circle cx="470.20" cy="349.70" r="1.85" fill="#1e2a4c"/>
<circle cx="466.40" cy="356.40" r="1.85" fill="#1e2a4c"/>
<rect x="0.5" y="0.5" width="519" height="425" fill="none" stroke="#000" stroke-width="1"/>
<rect x="1.5" y="1.5" width="517" height="423" fill="none" stroke="#777" stroke-width="1"/>
</svg>
</body></html>
